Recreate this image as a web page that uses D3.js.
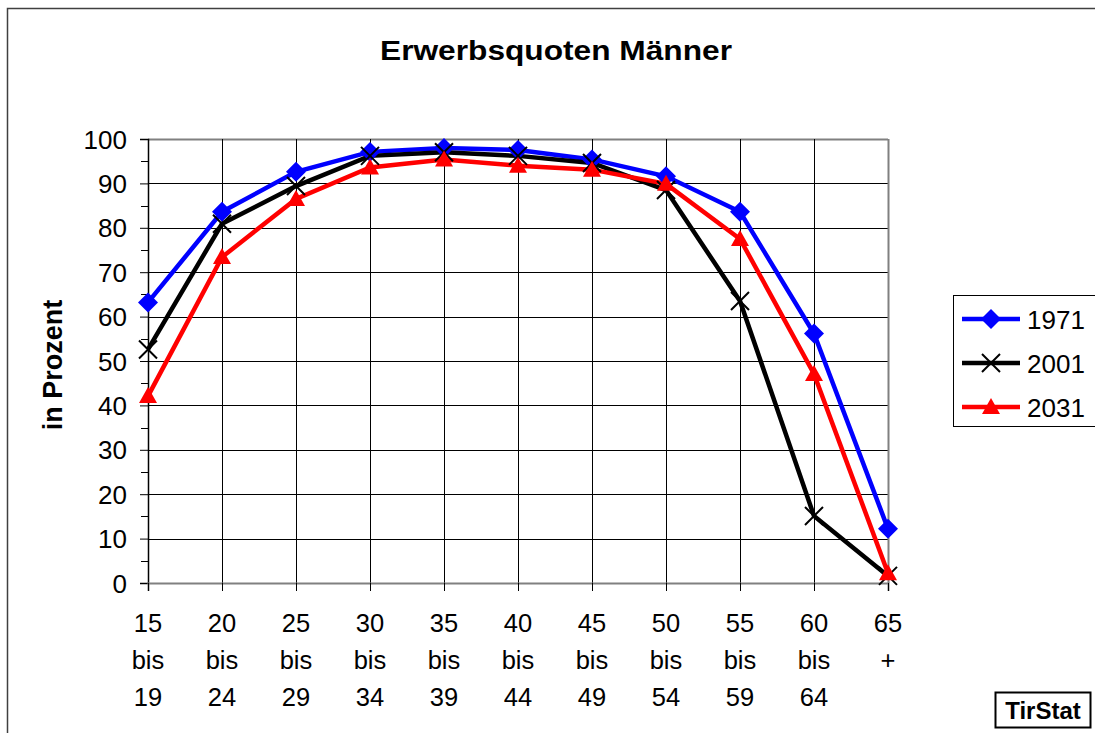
<!DOCTYPE html>
<html><head><meta charset="utf-8">
<script src="https://cdn.jsdelivr.net/npm/d3@7/dist/d3.min.js"></script>
<style>body{margin:0;background:#fff}svg{display:block;font-family:"Liberation Sans",Arial,sans-serif}</style>
</head><body>
<svg id="c" width="1095" height="733"></svg>
<script>
const categories = [["15","bis","19"],["20","bis","24"],["25","bis","29"],["30","bis","34"],["35","bis","39"],["40","bis","44"],["45","bis","49"],["50","bis","54"],["55","bis","59"],["60","bis","64"],["65","+",""]];
const seriesNames = ["1971","2001","2031"];
const v1971 = [63.2, 83.6, 92.6, 97.1, 98.0, 97.5, 95.4, 91.6, 83.6, 56.2, 12.2];
const v2001 = [52.6, 80.9, 89.4, 96.2, 97.0, 96.2, 94.6, 88.5, 63.5, 15.1, 1.6];
const v2031 = [42.1, 73.4, 86.5, 93.6, 95.4, 94.0, 93.1, 89.9, 77.5, 47.1, 2.2];
const yTicks = [0,10,20,30,40,50,60,70,80,90,100];
const colors = ["#0000ff","#000000","#ff0000"];
const series = [v1971, v2001, v2031];

const svg = d3.select("#c");
svg.append("rect").attr("x",7.5).attr("y",8.5).attr("width",1100).attr("height",740)
  .attr("fill","none").attr("stroke","#404040").attr("stroke-width",1.5);

const L=148, R=888, T=139, B=583;
const x = d3.scalePoint().domain(d3.range(categories.length)).range([L,R]);
const y = d3.scaleLinear().domain([0,100]).range([B,T]);

// gridlines
const g = svg.append("g");
g.selectAll(".hg").data(yTicks.filter(d=>d>0)).join("line")
  .attr("x1",L).attr("x2",R).attr("y1",d=>Math.round(y(d))+0.5).attr("y2",d=>Math.round(y(d))+0.5)
  .attr("stroke",d=>d===100?"#808080":"#000").attr("stroke-width",d=>d===100?2:1);
g.selectAll(".vg").data(d3.range(categories.length)).join("line")
  .attr("x1",d=>Math.round(x(d))+0.5).attr("x2",d=>Math.round(x(d))+0.5).attr("y1",T).attr("y2",B)
  .attr("stroke",(d,i)=>i===categories.length-1?"#808080":"#000").attr("stroke-width",(d,i)=>i===categories.length-1?2:1);

// y axis
const ya = svg.append("g").attr("transform",`translate(${L},0)`)
  .call(d3.axisLeft(y).tickValues(yTicks).tickSize(8).tickPadding(13));
ya.select(".domain").attr("stroke","#000").attr("stroke-width",1.5);
ya.selectAll(".tick line").attr("stroke","#000");
ya.selectAll("text").attr("font-size",26).attr("fill","#000").attr("dy","0.35em")
  .attr("font-family","Liberation Sans, Arial, sans-serif");
svg.append("g").selectAll("line").data(d3.range(5,100,10)).join("line")
  .attr("x1",L-7).attr("x2",L).attr("y1",d=>Math.round(y(d))+0.5).attr("y2",d=>Math.round(y(d))+0.5).attr("stroke","#000");

// x axis
const xa = svg.append("g").attr("transform",`translate(0,${B})`)
  .call(d3.axisBottom(x).tickSize(8).tickFormat(""));
xa.select(".domain").attr("stroke","#808080").attr("stroke-width",2);
xa.selectAll(".tick line").attr("stroke","#000");
const xl = svg.append("g");
categories.forEach((c,i)=>{
  c.forEach((t,j)=>{
    xl.append("text").attr("x",x(i)).attr("y",632+j*37).attr("text-anchor","middle")
      .attr("font-size",25.5).text(t);
  });
});

// lines
const line = d3.line().x((d,i)=>x(i)).y(d=>y(d));
series.forEach((s,k)=>{
  svg.append("path").datum(s).attr("d",line).attr("fill","none")
    .attr("stroke",colors[k]).attr("stroke-width",4.5).attr("stroke-linejoin","miter");
});
function marker(sel,k,cx,cy){
  if(k===0){
    sel.append("path").attr("d",`M${cx},${cy-10}L${cx+10},${cy}L${cx},${cy+10}L${cx-10},${cy}Z`).attr("fill",colors[0]);
  } else if(k===1){
    sel.append("path").attr("d",`M${cx-9},${cy-9}L${cx+9},${cy+9}M${cx-9},${cy+9}L${cx+9},${cy-9}`)
      .attr("stroke","#000").attr("stroke-width",2).attr("fill","none");
  } else {
    sel.append("path").attr("d",`M${cx},${cy-9}L${cx+9},${cy+7}L${cx-9},${cy+7}Z`).attr("fill",colors[2]);
  }
}
series.forEach((s,k)=>{
  const mg = svg.append("g");
  s.forEach((d,i)=>marker(mg,k,x(i),y(d)));
});

// title & y label
svg.append("text").attr("x",556).attr("y",60).attr("text-anchor","middle")
  .attr("font-size",27).attr("font-weight","bold")
  .attr("textLength",352).attr("lengthAdjust","spacingAndGlyphs").text("Erwerbsquoten Männer");
svg.append("text").attr("transform","translate(62,365) rotate(-90)").attr("text-anchor","middle")
  .attr("font-size",27).attr("font-weight","bold").text("in Prozent");

// legend
const lg = svg.append("g");
lg.append("rect").attr("x",953.5).attr("y",295.5).attr("width",160).attr("height",131)
  .attr("fill","#fff").attr("stroke","#000").attr("stroke-width",1);
seriesNames.forEach((n,k)=>{
  const cy = 319 + k*44;
  lg.append("line").attr("x1",962).attr("x2",1020).attr("y1",cy).attr("y2",cy)
    .attr("stroke",colors[k]).attr("stroke-width",4.5);
  marker(lg,k,991,cy);
  lg.append("text").attr("x",1027).attr("y",cy+10).attr("font-size",26).text(n);
});

// TirStat box
svg.append("rect").attr("x",995.5).attr("y",692.5).attr("width",95).attr("height",35)
  .attr("fill","#fff").attr("stroke","#000").attr("stroke-width",2);
svg.append("text").attr("x",1043).attr("y",719).attr("text-anchor","middle")
  .attr("font-size",24).attr("font-weight","bold").text("TirStat");
</script>
</body></html>
